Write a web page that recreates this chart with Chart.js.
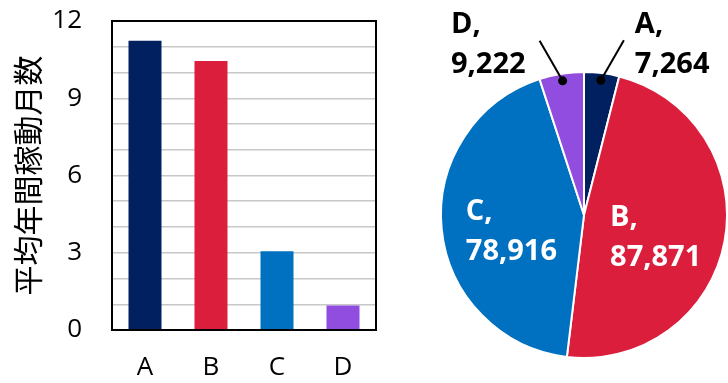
<!DOCTYPE html>
<html>
<head>
<meta charset="utf-8">
<script src="https://cdn.jsdelivr.net/npm/chart.js@4.4.1/dist/chart.umd.min.js"></script>
<style>
    body { margin: 0; background: #fff; }
    #wrap { position: relative; width: 728px; height: 383px; overflow: hidden; }
    #barCanvas { position: absolute; left: 0; top: 0; }
    #pieCanvas { position: absolute; left: 420px; top: 0; }
</style>
</head>
<body>
<div id="wrap">
    <canvas id="barCanvas" width="400" height="383"></canvas>
    <canvas id="pieCanvas" width="308" height="383"></canvas>
</div>
<script>
// datos
const categories = ["A", "B", "C", "D"]
const avgMonths = [11.23, 10.45, 3.06, 0.95]
const counts = [7264, 87871, 78916, 9222]
const yTickLabels = [0, 3, 6, 9, 12]
const yTitle = "平均年間稼動月数"

const colors = ["#002060", "#DA1E3C", "#0070C0", "#904DE0"]

document.addEventListener("DOMContentLoaded", () => {
    const barCanvas = document.getElementById("barCanvas")
    const pieCanvas = document.getElementById("pieCanvas")

    // marco negro del area de la grafica
    const frame = {
        id: "frame",
        afterDraw(chart) {
            const { ctx, chartArea: a } = chart
            ctx.save()
            ctx.strokeStyle = "#000"
            ctx.lineWidth = 2
            ctx.strokeRect(a.left, a.top, a.right - a.left, a.bottom - a.top)
            ctx.restore()
        }
    }

    new Chart(barCanvas, {
        type: "bar",
        data: {
            labels: categories,
            datasets: [{
                data: avgMonths,
                backgroundColor: colors,
                categoryPercentage: 0.5,
                barPercentage: 1,
            }]
        },
        options: {
            responsive: false,
            animation: false,
            devicePixelRatio: 1,
            layout: { padding: { left: 0, right: 24, top: 21, bottom: 0 } },
            plugins: { legend: { display: false }, tooltip: { enabled: false } },
            scales: {
                y: {
                    min: 0,
                    max: 12,
                    border: { display: false },
                    grid: { color: "#c8c8c8", lineWidth: 1.5, drawTicks: true, tickLength: 30, tickColor: "rgba(0,0,0,0)" },
                    ticks: {
                        stepSize: 1,
                        autoSkip: false,
                        padding: 0,
                        color: "#000",
                        font: { family: "Open Sans", size: 26 },
                        callback: v => yTickLabels.includes(v) ? v : ""
                    },
                    title: {
                        display: true,
                        text: yTitle,
                        color: "#000",
                        font: { family: "Noto Sans CJK JP", size: 30 },
                        padding: { top: 10, bottom: 0 }
                    },
                    afterFit: s => { s.width = 112 }
                },
                x: {
                    border: { display: false },
                    grid: { display: false },
                    ticks: {
                        padding: 14,
                        maxRotation: 0,
                        color: "#000",
                        font: { family: "Open Sans", size: 26 }
                    },
                    afterFit: s => { s.height = 53 }
                }
            }
        },
        plugins: [frame]
    })

    // etiquetas del pastel
    const pieLabels = {
        id: "pieLabels",
        afterDatasetsDraw(chart) {
            const { ctx } = chart
            const arcs = chart.getDatasetMeta(0).data
            ctx.save()
            ctx.font = "bold 29px 'Open Sans'"
            ctx.textBaseline = "alphabetic"
            arcs.forEach((arc, i) => {
                const p = arc.getProps(["x", "y", "startAngle", "endAngle", "outerRadius"], true)
                const mid = (p.startAngle + p.endAngle) / 2
                const lines = [categories[i] + ",", counts[i].toLocaleString("en-US")]
                const w = Math.max(...lines.map(t => ctx.measureText(t).width))
                const small = (p.endAngle - p.startAngle) < 0.5
                let bx, cy
                if (small) {
                    // linea guia con punto
                    const dx = p.x + Math.cos(mid) * p.outerRadius * 0.95
                    const dy = p.y + Math.sin(mid) * p.outerRadius * 0.95
                    const side = Math.cos(mid) >= 0 ? 1 : -1
                    const ex = dx + side * 23
                    const ey = dy - 40
                    ctx.strokeStyle = "#000"
                    ctx.lineWidth = 2
                    ctx.beginPath()
                    ctx.moveTo(dx, dy)
                    ctx.lineTo(ex, ey)
                    ctx.stroke()
                    ctx.fillStyle = "#000"
                    ctx.beginPath()
                    ctx.arc(dx, dy, 4.5, 0, Math.PI * 2)
                    ctx.fill()
                    bx = side > 0 ? ex + 11 : ex - 14 - w
                    cy = ey + 2
                } else {
                    ctx.fillStyle = "#fff"
                    const cx = p.x + Math.cos(mid) * p.outerRadius * 0.51
                    bx = cx - w / 2
                    cy = p.y + Math.sin(mid) * p.outerRadius * 0.51 + 7
                }
                ctx.textAlign = "left"
                ctx.fillText(lines[0], bx, cy - 20 + 10.4)
                ctx.fillText(lines[1], bx, cy + 20 + 10.4)
            })
            ctx.restore()
        }
    }

    new Chart(pieCanvas, {
        type: "pie",
        data: {
            labels: categories,
            datasets: [{
                data: counts,
                backgroundColor: colors,
                borderColor: "#fff",
                borderWidth: 2,
            }]
        },
        options: {
            responsive: false,
            animation: false,
            devicePixelRatio: 1,
            layout: { padding: { left: 20, right: 0, top: 71, bottom: 24 } },
            plugins: { legend: { display: false }, tooltip: { enabled: false } }
        },
        plugins: [pieLabels]
    })
})
</script>
</body>
</html>
